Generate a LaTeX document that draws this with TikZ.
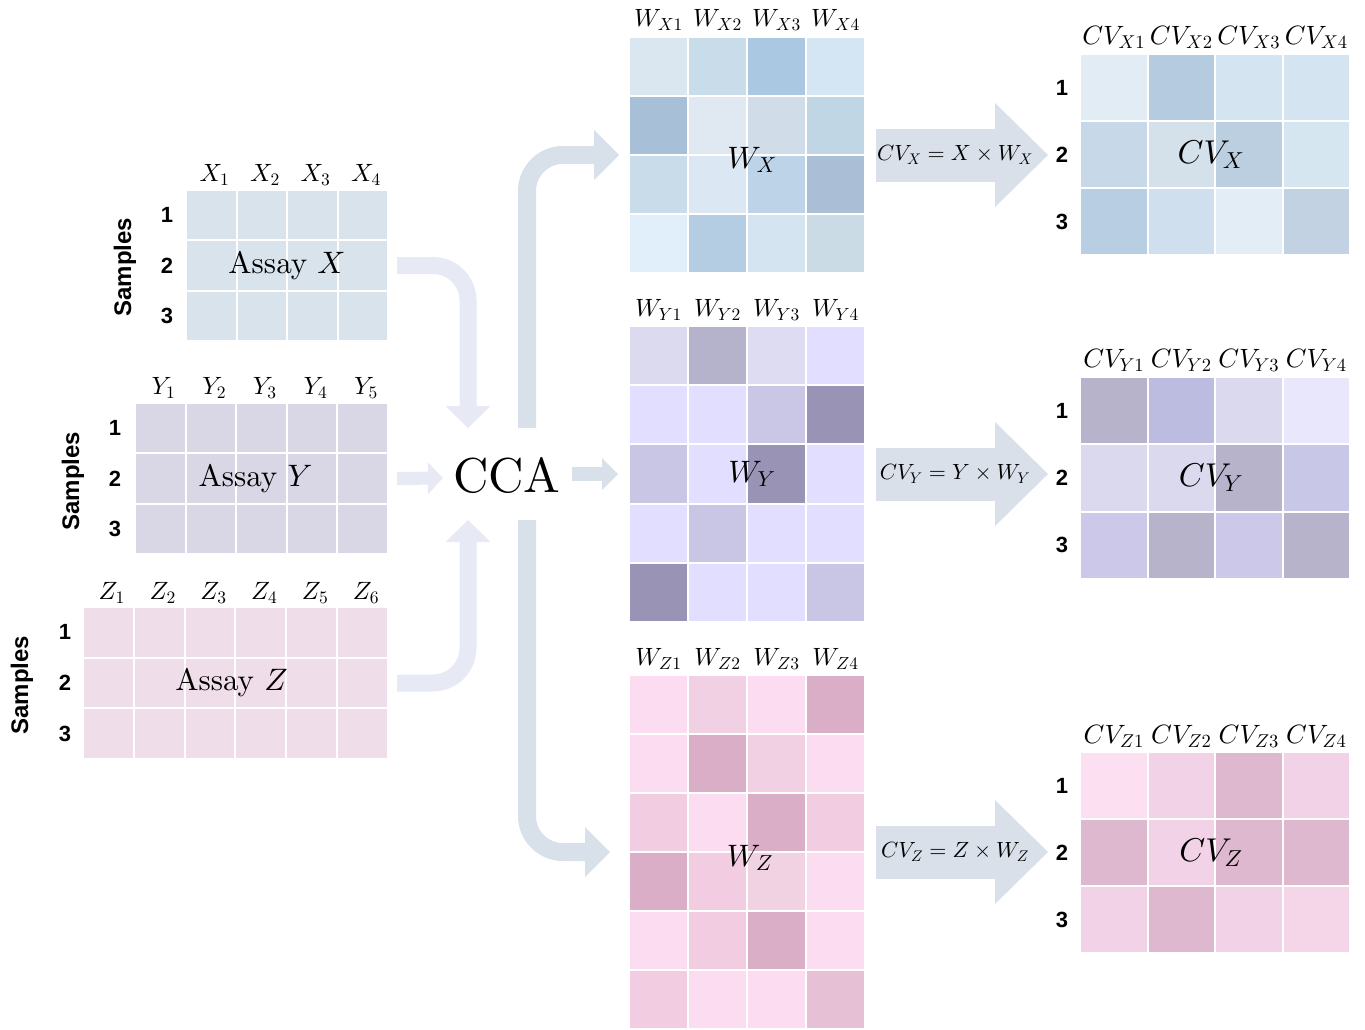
\RequirePackage{fix-cm}
\documentclass[tikz,border=0pt]{standalone}
\usepackage{fontspec}
\newfontfamily\hv{Liberation Sans}
\DeclareFontShape{OML}{cmm}{m}{it}{<->cmmi10}{}
\DeclareFontShape{OT1}{cmr}{m}{n}{<->cmr10}{}
\DeclareFontShape{OMS}{cmsy}{m}{n}{<->cmsy10}{}
\newcommand\cmrfont{\fontencoding{OT1}\fontfamily{cmr}\fontseries{m}\fontshape{n}\selectfont}
\usetikzlibrary{arrows.meta}
\definecolor{inc}{HTML}{E7EAF4}
\definecolor{outc}{HTML}{D8E0EA}
\definecolor{bigc}{HTML}{D9E0EA}
\newcommand\cellgrid[5]{%
  \foreach \rowlist [count=\r from 0] in {#5} {
    \foreach \hexc [count=\c from 0] in \rowlist {
      \definecolor{cellc}{HTML}{\hexc}
      \fill[cellc, draw=white, line width=2pt] (#1+\c*#3, #2+\r*#4) rectangle ++(#3,#4);
    }
  }%
}
\tikzset{
  gbox/.style={inner sep=0pt, outer sep=0pt, anchor=north west},
  collab/.style={inner sep=0pt, font=\fontsize{25}{25}\selectfont},
  cvlab/.style={inner sep=0pt, font=\fontsize{26.5}{26.5}\selectfont},
  midlab/.style={inner sep=0pt, font=\cmrfont\fontsize{31}{31}\selectfont},
  cvmid/.style={inner sep=0pt, font=\fontsize{33}{33}\selectfont},
  rownum/.style={inner sep=0pt, font=\hv\bfseries\fontsize{22}{22}\selectfont},
  samp/.style={inner sep=0pt, rotate=90, font=\hv\bfseries\fontsize{24}{24}\selectfont},
  formula/.style={inner sep=0pt, font=\fontsize{22}{22}\selectfont},
  inarr/.style={draw=inc, line width=17pt, rounded corners=35pt, -{Triangle[width=45pt,length=22pt,line width=0pt]}},
  inarrs/.style={draw=inc, line width=13pt, -{Triangle[width=32pt,length=15pt,line width=0pt]}},
  outarr/.style={draw=outc, line width=18pt, rounded corners=36pt, -{Triangle[width=50pt,length=25pt,line width=0pt]}},
  outarrs/.style={draw=outc, line width=14pt, -{Triangle[width=32pt,length=16pt,line width=0pt]}},
  bigarr/.style={draw=bigc, line width=53pt, -{Triangle[width=104pt,length=53pt,line width=0pt]}}
}
\begin{document}
\begin{tikzpicture}[x=1pt,y=-1pt]
\useasboundingbox (0,0) rectangle (1365,1029);

% ---------- input assays ----------
\cellgrid{186}{190}{50.5}{50.33}{{D9E3EC,D9E3EC,D9E3EC,D9E3EC},{D9E3EC,D9E3EC,D9E3EC,D9E3EC},{D9E3EC,D9E3EC,D9E3EC,D9E3EC}}
\node[gbox, minimum width=202pt, minimum height=151pt] (ax) at (186,190) {};
\node[midlab] (axl) at (ax.center) {Assay $X$};
\foreach \i in {1,...,4} \node[collab] (axc\i) at (186+\i*50.5-22, 175) {$X_{\i}$};
\foreach \i in {1,2,3} \node[rownum] (axr\i) at (167, 190+\i*50.33-25.17) {\i};
\node[samp] (axs) at (125,267) {Samples};

\cellgrid{135}{403}{50.6}{50.33}{{D9D7E6,D9D7E6,D9D7E6,D9D7E6,D9D7E6},{D9D7E6,D9D7E6,D9D7E6,D9D7E6,D9D7E6},{D9D7E6,D9D7E6,D9D7E6,D9D7E6,D9D7E6}}
\node[gbox, minimum width=253pt, minimum height=151pt] (ay) at (135,403) {};
\node[midlab] (ayl) at ([xshift=-6pt]ay.center) {Assay $Y$};
\foreach \i in {1,...,5} \node[collab] (ayc\i) at (135+\i*50.6-22, 388) {$Y_{\i}$};
\foreach \i in {1,2,3} \node[rownum] (ayr\i) at (115, 403+\i*50.33-25.17) {\i};
\node[samp] (ays) at (73,481) {Samples};

\cellgrid{83}{607}{50.83}{50.67}{{EFDDE9,EFDDE9,EFDDE9,EFDDE9,EFDDE9,EFDDE9},{EFDDE9,EFDDE9,EFDDE9,EFDDE9,EFDDE9,EFDDE9},{EFDDE9,EFDDE9,EFDDE9,EFDDE9,EFDDE9,EFDDE9}}
\node[gbox, minimum width=305pt, minimum height=152pt] (az) at (83,607) {};
\node[midlab] (azl) at ([xshift=-4pt]az.center) {Assay $Z$};
\foreach \i in {1,...,6} \node[collab] (azc\i) at (83+\i*50.83-22, 593) {$Z_{\i}$};
\foreach \i in {1,2,3} \node[rownum] (azr\i) at (65, 607+\i*50.67-25.33) {\i};
\node[samp] (azs) at (22,685) {Samples};

% ---------- CCA ----------
\node[inner sep=0pt, font=\cmrfont\fontsize{49}{49}\selectfont] (cca) at (507,476) {CCA};

% ---------- weight matrices ----------
\cellgrid{629}{37}{59}{59}{{DBE7F0,C9DCEA,AAC8E2,D4E5F3},{A7C0D8,E0E9F2,D0DDE8,C1D6E5},{C9DCEA,DBE7F3,BDD4E8,AABFD5},{E0EFF9,B5CDE2,D4E4F1,CBDBE5}}
\node[gbox, minimum width=236pt, minimum height=236pt] (wx) at (629,37) {};
\node[midlab] (wxl) at ([xshift=5pt,yshift=-5pt]wx.center) {$W_X$};
\foreach \i in {1,...,4} \node[collab] (wxc\i) at (629+\i*59-29.5, 20) {$W_{X\i}$};

\cellgrid{629}{326}{59}{59.2}{{DCDAEE,B5B3CB,DEDCF2,E2DEFF},{E2DEFF,E2DEFF,CAC6E5,9993B5},{C9C5E5,E2DEFF,9993B5,E2DEFF},{E2DEFF,C9C5E5,E2DEFF,E2DEFF},{9993B5,E2DEFF,E2DEFF,C9C5E5}}
\node[gbox, minimum width=236pt, minimum height=296pt] (wy) at (629,326) {};
\node[midlab] (wyl) at ([xshift=5pt]wy.center) {$W_Y$};
\foreach \i in {1,...,4} \node[collab] (wyc\i) at (629+\i*59-29.5, 310) {$W_{Y\i}$};

\cellgrid{629}{675}{59}{59}{{FCDCF0,F1D0E3,FCDCF0,DBAEC8},{FCDCF0,DBAEC8,F1D0E3,FCDCF0},{F2CDE2,FCDCF0,DBAEC8,F2CDE2},{DBAEC8,F2CDE2,F0D2E3,FCDCF0},{FCDCF0,F2CDE2,DBAEC8,FCDCF0},{F2CDE2,FCDCF0,FCDCF0,E6C0D5}}
\node[gbox, minimum width=236pt, minimum height=354pt] (wz) at (629,675) {};
\node[midlab] (wzl) at ([xshift=3pt,yshift=-6pt]wz.center) {$W_Z$};
\foreach \i in {1,...,4} \node[collab] (wzc\i) at (629+\i*59-29.5, 659) {$W_{Z\i}$};

% ---------- canonical variates ----------
\cellgrid{1080}{54}{67.5}{67}{{E2ECF5,B5CCE0,D5E4F1,D5E4F1},{C7D9E8,D5E1EA,BCCFE0,D6E6F1},{B8CFE3,CFDFED,E2EDF5,C2D2E3}}
\node[gbox, minimum width=270pt, minimum height=201pt] (cvx) at (1080,54) {};
\node[cvmid] (cvxl) at ([xshift=-4pt]cvx.center) {$CV_X$};
\foreach \i in {1,...,4} \node[cvlab] (cvxc\i) at (1080+\i*67.5-33.75, 37) {$CV_{X\i}$};
\foreach \i in {1,2,3} \node[rownum] (cvxr\i) at (1062, 54+\i*67-33.5) {\i};

\cellgrid{1080}{377}{67.5}{67.3}{{B6B3CB,BCBBE0,DBD9EE,E8E7FB},{DBD9EE,DBD9EE,B6B3CB,C9C7E7},{CBC8E9,B6B3CB,CBC8E9,B6B3CB}}
\node[gbox, minimum width=270pt, minimum height=202pt] (cvy) at (1080,377) {};
\node[cvmid] (cvyl) at ([xshift=-4pt]cvy.center) {$CV_Y$};
\foreach \i in {1,...,4} \node[cvlab] (cvyc\i) at (1080+\i*67.5-33.75, 360) {$CV_{Y\i}$};
\foreach \i in {1,2,3} \node[rownum] (cvyr\i) at (1062, 377+\i*67.3-33.65) {\i};

\cellgrid{1080}{752}{67.5}{67}{{FCE0F1,F2D2E6,DEB8CF,F2D2E6},{DEB8CF,F2D2E6,DEB8CF,DEB8CF},{F2D2E6,DEB8CF,F2D2E6,F5D5E8}}
\node[gbox, minimum width=270pt, minimum height=201pt] (cvz) at (1080,752) {};
\node[cvmid] (cvzl) at ([xshift=-4pt]cvz.center) {$CV_Z$};
\foreach \i in {1,...,4} \node[cvlab] (cvzc\i) at (1080+\i*67.5-33.75, 736) {$CV_{Z\i}$};
\foreach \i in {1,2,3} \node[rownum] (cvzr\i) at (1062, 752+\i*67-33.5) {\i};

% ---------- arrows into CCA ----------
\coordinate (a1) at (468,428);
\draw[inarr] ([xshift=9pt]ax.east) -| (a1);
\coordinate (b1) at (443,478);
\draw[inarrs] ([xshift=9pt]ay.east) -- (b1);
\coordinate (c1) at (468,520);
\draw[inarr] ([xshift=9pt]az.east) -| (c1);

% ---------- arrows out of CCA ----------
\coordinate (d0) at (527,428);
\draw[outarr] (d0) |- ([xshift=-10pt]wx.west);
\coordinate (e0) at (572,474);
\coordinate (e1) at ([xshift=-11pt]wy.west);
\draw[outarrs] (e0) -- (e0 -| e1);
\coordinate (f0) at (527,520);
\draw[outarr] (f0) |- ([xshift=-19pt]wz.west);

% ---------- block arrows ----------
\coordinate (gx) at ([xshift=-32pt]cvx.west);
\draw[bigarr] ([xshift=11pt]wx.east) -- (gx |- wx.east);
\node[formula] (fx) at ([xshift=90pt]wx.east) {$CV_X = X \times W_X$};

\coordinate (gy) at ([xshift=-32pt]cvy.west);
\draw[bigarr] ([xshift=11pt]wy.east) -- (gy |- wy.east);
\node[formula] (fy) at ([xshift=90pt]wy.east) {$CV_Y = Y \times W_Y$};

\coordinate (gz) at ([xshift=-32pt]cvz.west);
\draw[bigarr] ([xshift=11pt]wz.east) -- (gz |- wz.east);
\node[formula] (fz) at ([xshift=90pt]wz.east) {$CV_Z = Z \times W_Z$};
\end{tikzpicture}
\end{document}
